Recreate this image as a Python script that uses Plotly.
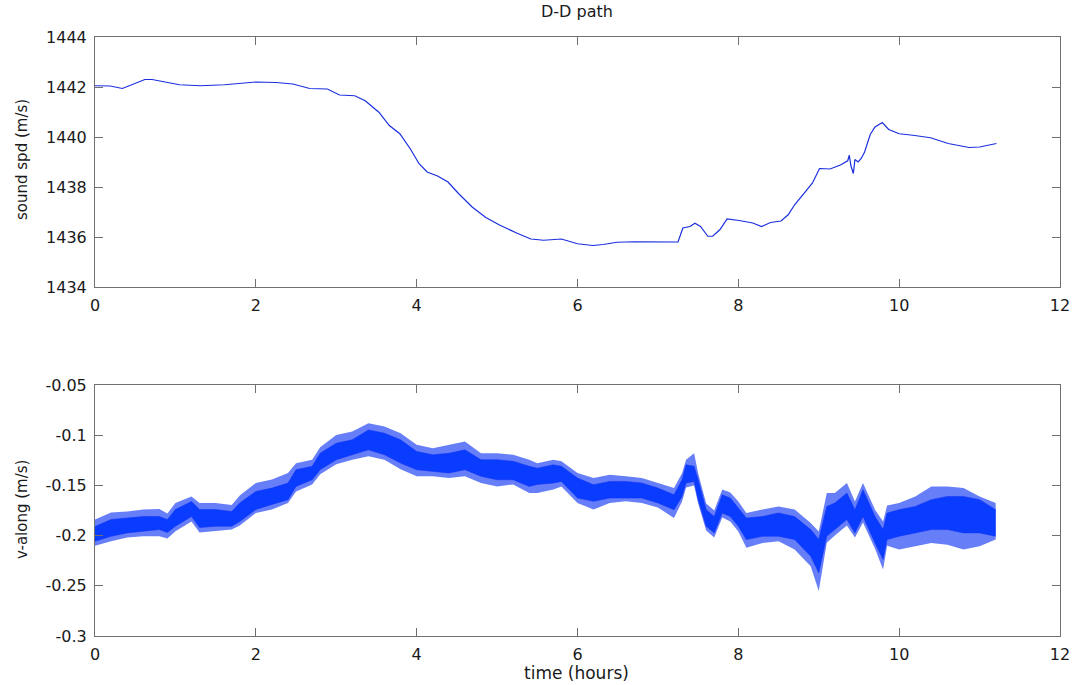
import plotly.graph_objects as go

# ---- data: sound speed (top panel) ----
t_ss = [0.0, 0.19, 0.34, 0.49, 0.62, 0.71, 0.835, 1.05, 1.31, 1.61, 2.0, 2.25, 2.46, 2.67, 2.89,
        3.04, 3.23, 3.36, 3.53, 3.66, 3.79, 3.92, 4.03, 4.13, 4.26, 4.39, 4.52, 4.69, 4.86, 5.03,
        5.25, 5.42, 5.58, 5.80, 6.0, 6.19, 6.32, 6.49, 6.71, 6.92, 7.25, 7.31, 7.40, 7.46, 7.53,
        7.62, 7.68, 7.77, 7.86, 8.01, 8.18, 8.29, 8.40, 8.53, 8.62, 8.70, 8.83, 8.92, 9.01, 9.14,
        9.27, 9.36, 9.38, 9.40, 9.43, 9.45, 9.49, 9.53, 9.57, 9.64, 9.70, 9.79, 9.87, 10.0, 10.17,
        10.39, 10.61, 10.87, 11.0, 11.21]
sound_spd = [1442.05, 1442.04, 1441.94, 1442.14, 1442.30, 1442.30, 1442.22, 1442.09, 1442.05, 1442.09,
             1442.20, 1442.18, 1442.12, 1441.94, 1441.92, 1441.68, 1441.65, 1441.45, 1440.99, 1440.46,
             1440.13, 1439.53, 1438.93, 1438.60, 1438.44, 1438.20, 1437.74, 1437.20, 1436.78, 1436.48,
             1436.15, 1435.92, 1435.87, 1435.92, 1435.73, 1435.66, 1435.70, 1435.79, 1435.81, 1435.80,
             1435.80, 1436.36, 1436.42, 1436.55, 1436.42, 1436.03, 1436.03, 1436.29, 1436.72, 1436.66,
             1436.56, 1436.42, 1436.58, 1436.64, 1436.89, 1437.29, 1437.82, 1438.15, 1438.74, 1438.72,
             1438.88, 1439.05, 1439.27, 1438.85, 1438.54, 1439.10, 1439.00, 1439.15, 1439.40, 1440.10,
             1440.40, 1440.58, 1440.30, 1440.13, 1440.07, 1439.97, 1439.74, 1439.58, 1439.60, 1439.74]

# ---- data: v-along (bottom panel), envelopes of the noisy record ----
t_v = [0.0, 0.2, 0.4, 0.6, 0.8, 0.9, 1.0, 1.2, 1.3, 1.5, 1.7, 1.8, 2.0, 2.2, 2.4, 2.5, 2.7, 2.8,
       3.0, 3.2, 3.4, 3.6, 3.8, 4.0, 4.2, 4.4, 4.6, 4.8, 5.0, 5.2, 5.4, 5.5, 5.7, 5.8, 6.0, 6.2,
       6.4, 6.6, 6.8, 7.0, 7.2, 7.3, 7.35, 7.45, 7.5, 7.6, 7.7, 7.8, 7.9, 8.0, 8.1, 8.3, 8.5,
       8.7, 8.9, 9.0, 9.1, 9.2, 9.35, 9.45, 9.55, 9.7, 9.8, 9.85, 10.0, 10.2, 10.4, 10.6, 10.8,
       11.0, 11.2]
v_core_hi = [-0.191, -0.184, -0.1825, -0.181, -0.181, -0.184, -0.174, -0.166, -0.174, -0.174, -0.176,
             -0.1675, -0.156, -0.1527, -0.1477, -0.1344, -0.131, -0.118, -0.108, -0.1046, -0.0947,
             -0.098, -0.1046, -0.1162, -0.1195, -0.118, -0.1146, -0.1245, -0.1245, -0.126, -0.131,
             -0.1328, -0.1295, -0.131, -0.1427, -0.1493, -0.146, -0.146, -0.1477, -0.1527, -0.1593,
             -0.1444, -0.1295, -0.131, -0.1444, -0.1742, -0.181, -0.1593, -0.1626, -0.1725, -0.1825,
             -0.181, -0.1775, -0.181, -0.194, -0.204, -0.1709, -0.1675, -0.1576, -0.1742, -0.1543,
             -0.181, -0.194, -0.1775, -0.1742, -0.1709, -0.1642, -0.161, -0.161, -0.1642, -0.1742]
v_core_lo = [-0.2056, -0.2007, -0.1973, -0.1957, -0.194, -0.197, -0.1907, -0.181, -0.192, -0.1907,
             -0.1907, -0.186, -0.174, -0.169, -0.1642, -0.151, -0.1444, -0.1344, -0.1245, -0.1195,
             -0.1146, -0.1195, -0.1278, -0.1344, -0.136, -0.1377, -0.1344, -0.141, -0.1444, -0.1444,
             -0.151, -0.149, -0.1477, -0.146, -0.1626, -0.1659, -0.1626, -0.1626, -0.1626, -0.1675,
             -0.1742, -0.161, -0.1477, -0.146, -0.164, -0.1907, -0.1973, -0.1775, -0.181, -0.1907,
             -0.204, -0.2007, -0.2007, -0.204, -0.2205, -0.237, -0.2007, -0.194, -0.184, -0.1973,
             -0.181, -0.2073, -0.2238, -0.204, -0.2007, -0.1973, -0.194, -0.194, -0.1973, -0.1973,
             -0.2007]
v_spike_hi = [-0.184, -0.177, -0.176, -0.174, -0.1735, -0.178, -0.1675, -0.161, -0.1675, -0.1675,
              -0.1695, -0.160, -0.1477, -0.144, -0.1377, -0.128, -0.1245, -0.112, -0.0997, -0.0964,
              -0.088, -0.0914, -0.098, -0.1096, -0.1129, -0.1096, -0.1063, -0.118, -0.118, -0.1195,
              -0.1245, -0.128, -0.1245, -0.126, -0.1377, -0.1427, -0.1394, -0.141, -0.1427, -0.1477,
              -0.1526, -0.138, -0.1245, -0.1179, -0.138, -0.168, -0.175, -0.154, -0.157, -0.166,
              -0.1775, -0.174, -0.171, -0.174, -0.1874, -0.196, -0.1576, -0.1576, -0.1477, -0.166,
              -0.1477, -0.1742, -0.186, -0.170, -0.1675, -0.1610, -0.151, -0.151, -0.1526, -0.161,
              -0.1675]
v_spike_lo = [-0.210, -0.2056, -0.202, -0.2007, -0.2007, -0.203, -0.1957, -0.186, -0.197, -0.1957,
              -0.194, -0.190, -0.1775, -0.174, -0.1675, -0.156, -0.149, -0.139, -0.129, -0.1245,
              -0.121, -0.1245, -0.134, -0.141, -0.141, -0.1427, -0.141, -0.1477, -0.151, -0.149,
              -0.1576, -0.1576, -0.154, -0.151, -0.1675, -0.174, -0.1675, -0.1659, -0.1675, -0.172,
              -0.1825, -0.166, -0.152, -0.150, -0.168, -0.195, -0.202, -0.182, -0.186, -0.196,
              -0.2122, -0.2073, -0.2056, -0.2139, -0.2305, -0.2553, -0.207, -0.200, -0.190, -0.202,
              -0.187, -0.213, -0.2338, -0.210, -0.2139, -0.2106, -0.2073, -0.2090, -0.2139, -0.2106,
              -0.2040]

x_ticks = [0, 2, 4, 6, 8, 10, 12]
ss_ticks = [1434, 1436, 1438, 1440, 1442, 1444]
v_ticks = [-0.3, -0.25, -0.2, -0.15, -0.1, -0.05]
v_tick_text = ["-0.3", "-0.25", "-0.2", "-0.15", "-0.1", "-0.05"]

LINE = "#1030f0"
AX = "#707070"
FONT = "DejaVu Sans, Verdana, sans-serif"

fig = go.Figure()

fig.add_trace(go.Scatter(x=t_ss, y=sound_spd, mode="lines",
                         line=dict(color="#1a2ee0", width=1.2), xaxis="x", yaxis="y",
                         showlegend=False, hoverinfo="skip"))

# outer (spike) envelope
fig.add_trace(go.Scatter(x=t_v, y=v_spike_hi, mode="lines", line=dict(width=0, color=LINE),
                         xaxis="x2", yaxis="y2", showlegend=False, hoverinfo="skip"))
fig.add_trace(go.Scatter(x=t_v, y=v_spike_lo, mode="lines", line=dict(width=0, color=LINE),
                         fill="tonexty", fillcolor="rgba(30,65,245,0.68)",
                         xaxis="x2", yaxis="y2", showlegend=False, hoverinfo="skip"))
# dense core band
fig.add_trace(go.Scatter(x=t_v, y=v_core_hi, mode="lines", line=dict(width=0.5, color=LINE),
                         xaxis="x2", yaxis="y2", showlegend=False, hoverinfo="skip"))
fig.add_trace(go.Scatter(x=t_v, y=v_core_lo, mode="lines", line=dict(width=0.5, color=LINE),
                         fill="tonexty", fillcolor="#0a3cff",
                         xaxis="x2", yaxis="y2", showlegend=False, hoverinfo="skip"))

W, H = 1077, 685


def px(xp):
    return xp / W


def py(yp):
    return 1 - yp / H


xd = [px(95), px(1060)]
top_d = [py(287), py(37)]
bot_d = [py(636), py(385)]

axis_common = dict(showline=True, linecolor=AX, linewidth=1, mirror="ticks",
                   ticks="inside", ticklen=8, tickcolor=AX, showgrid=False, zeroline=False,
                   tickfont=dict(family=FONT, size=16, color="#1a1a1a"), automargin=False,
                   ticklabelstandoff=4)

fig.update_layout(
    width=W, height=H,
    paper_bgcolor="white", plot_bgcolor="white",
    margin=dict(l=0, r=0, t=0, b=0),
    xaxis=dict(domain=xd, range=[0, 12], tickvals=x_ticks, anchor="y", **axis_common),
    yaxis=dict(domain=top_d, range=[1434, 1444], tickvals=ss_ticks, anchor="x", **axis_common),
    xaxis2=dict(domain=xd, range=[0, 12], tickvals=x_ticks, anchor="y2", **axis_common),
    yaxis2=dict(domain=bot_d, range=[-0.3, -0.05], tickvals=v_ticks, ticktext=v_tick_text,
                anchor="x2", **axis_common),
    annotations=[
        dict(text="D-D path", x=px(577), y=py(11), xref="paper", yref="paper",
             showarrow=False, font=dict(family=FONT, size=16, color="#1a1a1a"),
             xanchor="center", yanchor="middle"),
        dict(text="sound spd (m/s)", x=px(22), y=py(160), xref="paper", yref="paper",
             showarrow=False, textangle=-90, font=dict(family=FONT, size=15, color="#1a1a1a"),
             xanchor="center", yanchor="middle"),
        dict(text="v-along (m/s)", x=px(22), y=py(510), xref="paper", yref="paper",
             showarrow=False, textangle=-90, font=dict(family=FONT, size=15, color="#1a1a1a"),
             xanchor="center", yanchor="middle"),
        dict(text="time (hours)", x=px(576), y=py(673), xref="paper", yref="paper",
             showarrow=False, font=dict(family=FONT, size=17, color="#1a1a1a"),
             xanchor="center", yanchor="middle"),
    ],
)

# remove the default page margin so the figure sits at the window's top-left corner
fig.write_html("out.html", config={"displayModeBar": False},
               post_script="document.body.style.margin='0';document.body.style.overflow='hidden';")
